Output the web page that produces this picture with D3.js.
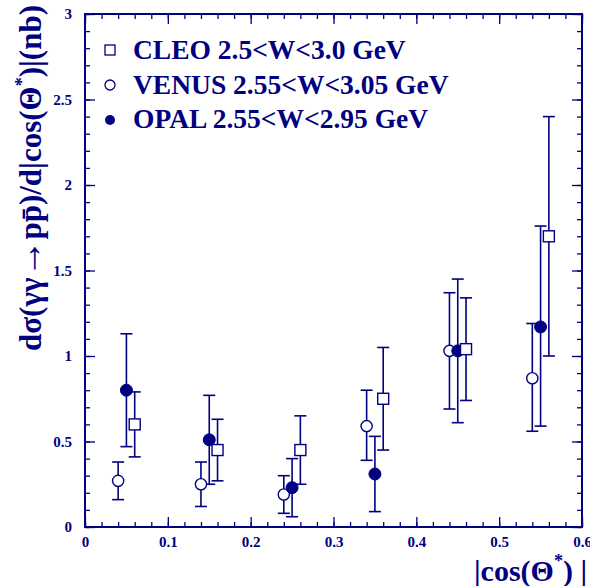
<!DOCTYPE html>
<html><head><meta charset="utf-8">
<script src="https://cdn.jsdelivr.net/npm/d3@7"></script>
<style>body{margin:0;background:#fff}svg text{font-family:"Liberation Serif","Times New Roman",serif;font-weight:bold;fill:#000080}</style>
</head><body><svg id="c" width="590" height="586"></svg>
<script>
// ---- data ----
const cleoX  = [0.06, 0.16, 0.26, 0.36, 0.46, 0.56];
const cleoY  = [0.60, 0.45, 0.45, 0.75, 1.04, 1.70];
const cleoLo = [0.41, 0.27, 0.25, 0.45, 0.74, 1.00];
const cleoHi = [0.79, 0.63, 0.65, 1.05, 1.34, 2.40];

const venusX  = [0.04, 0.14, 0.24, 0.34, 0.44, 0.54];
const venusY  = [0.27, 0.25, 0.19, 0.59, 1.03, 0.87];
const venusLo = [0.16, 0.12, 0.08, 0.39, 0.69, 0.56];
const venusHi = [0.38, 0.38, 0.30, 0.80, 1.37, 1.19];

const opalX  = [0.05, 0.15, 0.25, 0.35, 0.45, 0.55];
const opalY  = [0.80, 0.51, 0.23, 0.31, 1.03, 1.17];
const opalLo = [0.47, 0.25, 0.06, 0.09, 0.61, 0.59];
const opalHi = [1.13, 0.77, 0.40, 0.53, 1.45, 1.76];

const xTicks = [0, 0.1, 0.2, 0.3, 0.4, 0.5, 0.6];
const yTicks = [0, 0.5, 1, 1.5, 2, 2.5, 3];
const legendLabels = ["CLEO 2.5<W<3.0 GeV", "VENUS 2.55<W<3.05 GeV", "OPAL 2.55<W<2.95 GeV"];

// ---- layout ----
const NAVY = "#000080";
const L = 85, R = 582, T = 14, B = 527;
const svg = d3.select("#c");
const x = d3.scaleLinear().domain([0, 0.6]).range([L, R]);
const y = d3.scaleLinear().domain([0, 3]).range([B, T]);
const fmt = d => d === 0 ? "0" : String(d);

function styleAxis(g) {
  g.select(".domain").remove();
  g.selectAll("line").attr("stroke", NAVY).attr("stroke-width", 1.3);
  g.selectAll("text").attr("font-size", 15).attr("fill", NAVY)
    .attr("font-family", "Liberation Serif").attr("font-weight", "bold");
}
const xMinor = d3.range(0, 0.6001, 0.02);
const yMinor = d3.range(0, 3.0001, 0.1);

// bottom
svg.append("g").attr("transform", `translate(0,${B})`)
  .call(d3.axisBottom(x).tickValues(xTicks).tickFormat(fmt).tickSizeInner(-10).tickSizeOuter(0).tickPadding(9)).call(styleAxis);
svg.append("g").attr("transform", `translate(0,${B})`)
  .call(d3.axisBottom(x).tickValues(xMinor).tickFormat("").tickSizeInner(-5).tickSizeOuter(0)).call(styleAxis);
// top
svg.append("g").attr("transform", `translate(0,${T})`)
  .call(d3.axisTop(x).tickValues(xTicks).tickFormat("").tickSizeInner(-10).tickSizeOuter(0)).call(styleAxis);
svg.append("g").attr("transform", `translate(0,${T})`)
  .call(d3.axisTop(x).tickValues(xMinor).tickFormat("").tickSizeInner(-5).tickSizeOuter(0)).call(styleAxis);
// left
svg.append("g").attr("transform", `translate(${L},0)`)
  .call(d3.axisLeft(y).tickValues(yTicks).tickFormat(fmt).tickSizeInner(-10).tickSizeOuter(0).tickPadding(13)).call(styleAxis);
svg.append("g").attr("transform", `translate(${L},0)`)
  .call(d3.axisLeft(y).tickValues(yMinor).tickFormat("").tickSizeInner(-5).tickSizeOuter(0)).call(styleAxis);
// right
svg.append("g").attr("transform", `translate(${R},0)`)
  .call(d3.axisRight(y).tickValues(yTicks).tickFormat("").tickSizeInner(-10).tickSizeOuter(0)).call(styleAxis);
svg.append("g").attr("transform", `translate(${R},0)`)
  .call(d3.axisRight(y).tickValues(yMinor).tickFormat("").tickSizeInner(-5).tickSizeOuter(0)).call(styleAxis);

// frame
svg.append("rect").attr("x", L).attr("y", T).attr("width", R - L).attr("height", B - T)
  .attr("fill", "none").attr("stroke", NAVY).attr("stroke-width", 2);

// ---- series ----
function series(xs, ys, lo, hi) { return xs.map((v, i) => ({x: v, y: ys[i], lo: lo[i], hi: hi[i]})); }
const cleo = series(cleoX, cleoY, cleoLo, cleoHi);
const venus = series(venusX, venusY, venusLo, venusHi);
const opal = series(opalX, opalY, opalLo, opalHi);

const CAP = 6;
function errorBars(data) {
  const g = svg.append("g").attr("stroke", NAVY).attr("stroke-width", 1.6);
  g.selectAll(".v").data(data).enter().append("line")
    .attr("x1", d => x(d.x)).attr("x2", d => x(d.x)).attr("y1", d => y(d.lo)).attr("y2", d => y(d.hi));
  g.selectAll(".t").data(data).enter().append("line")
    .attr("x1", d => x(d.x) - CAP).attr("x2", d => x(d.x) + CAP).attr("y1", d => y(d.hi)).attr("y2", d => y(d.hi));
  g.selectAll(".b").data(data).enter().append("line")
    .attr("x1", d => x(d.x) - CAP).attr("x2", d => x(d.x) + CAP).attr("y1", d => y(d.lo)).attr("y2", d => y(d.lo));
}
errorBars(venus); errorBars(opal); errorBars(cleo);

svg.append("g").selectAll("circle").data(venus).enter().append("circle")
  .attr("cx", d => x(d.x)).attr("cy", d => y(d.y)).attr("r", 5.6)
  .attr("fill", "#fff").attr("stroke", NAVY).attr("stroke-width", 1.4);
svg.append("g").selectAll("circle").data(opal).enter().append("circle")
  .attr("cx", d => x(d.x)).attr("cy", d => y(d.y)).attr("r", 6)
  .attr("fill", NAVY).attr("stroke", NAVY).attr("stroke-width", 1);
const SQ = 11;
svg.append("g").selectAll("rect").data(cleo).enter().append("rect")
  .attr("x", d => x(d.x) - SQ / 2).attr("y", d => y(d.y) - SQ / 2).attr("width", SQ).attr("height", SQ)
  .attr("fill", "#fff").attr("stroke", NAVY).attr("stroke-width", 1.4);

// ---- legend ----
const lg = svg.append("g");
const rowY = [59, 94, 128];
lg.append("rect").attr("x", 105).attr("y", rowY[0] - 14).attr("width", 10).attr("height", 10)
  .attr("fill", "#fff").attr("stroke", NAVY).attr("stroke-width", 1.3);
lg.append("circle").attr("cx", 110).attr("cy", rowY[1] - 9).attr("r", 5)
  .attr("fill", "#fff").attr("stroke", NAVY).attr("stroke-width", 1.3);
lg.append("circle").attr("cx", 110).attr("cy", rowY[2] - 8).attr("r", 5)
  .attr("fill", NAVY);
lg.selectAll("text").data(legendLabels).enter().append("text")
  .attr("x", 133).attr("y", (d, i) => rowY[i]).attr("font-size", 27.5).text(d => d);

// ---- axis titles ----
const yt = svg.append("text").attr("transform", "translate(41,178) rotate(-90)")
  .attr("text-anchor", "middle").attr("font-size", 31);
yt.append("tspan").text("dσ(γγ");
yt.append("tspan").attr("font-size", 38).text("\u2192");
yt.append("tspan").text("pp\u0304");
yt.append("tspan").text(")/d|cos(Θ");
yt.append("tspan").attr("font-size", 18).attr("dy", -13).text("*");
yt.append("tspan").attr("dy", 13).text(")|(nb)");

const xt = svg.append("text").attr("x", 587).attr("y", 581).attr("text-anchor", "end").attr("font-size", 30);
xt.append("tspan").text("|cos(Θ");
xt.append("tspan").attr("font-size", 18).attr("dy", -14).text("*");
xt.append("tspan").attr("dy", 14).text(") |");
</script></body></html>
